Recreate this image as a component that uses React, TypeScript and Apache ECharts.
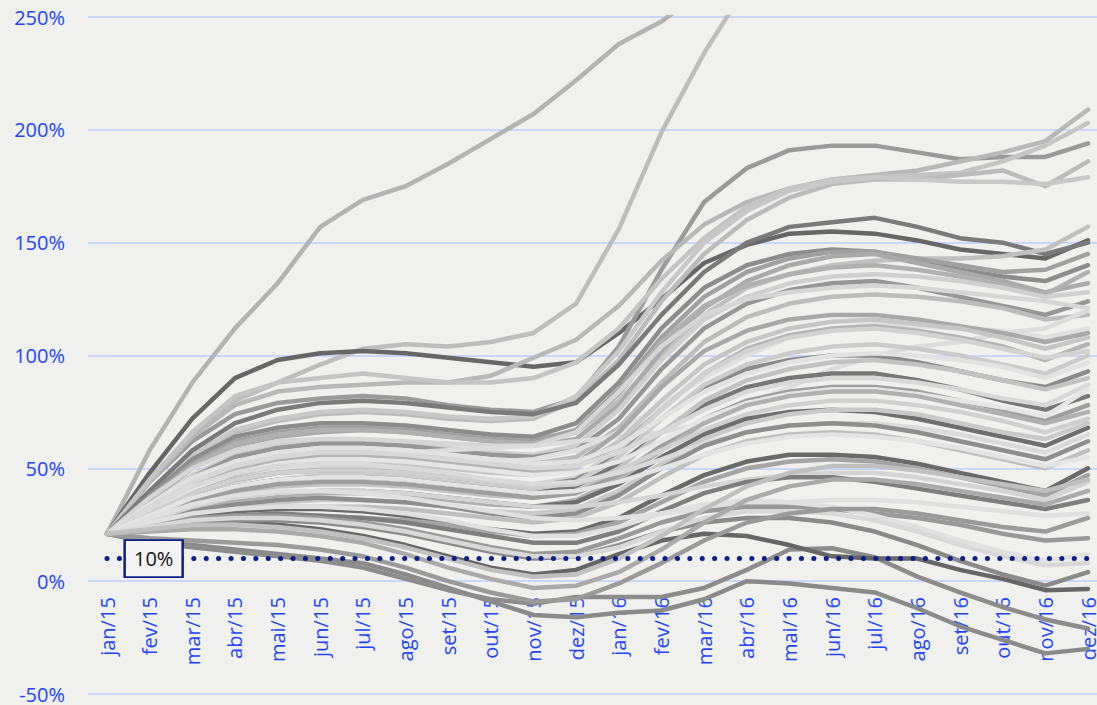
import React, { useEffect, useRef } from "react";
import * as echarts from "echarts";

// Monthly cumulative return (%) of each fund, jan/15 to dez/16
const months = [
  "jan/15", "fev/15", "mar/15", "abr/15", "mai/15", "jun/15", "jul/15", "ago/15", "set/15", "out/15", "nov/15", "dez/15",
  "jan/16", "fev/16", "mar/16", "abr/16", "mai/16", "jun/16", "jul/16", "ago/16", "set/16", "out/16", "nov/16", "dez/16",
];

const yMin = -50;
const yMax = 250;
const yStep = 50;
const targetLevel = 10;

// Funds ending in the upper part of the range
const upperFunds: (number | null)[][] = [
  [21, 58, 88, 112, 132, 157, 169, 175, 185, 196, 207, 222, 238, 248, 262, null, null, null, null, null, null, null, null, null],
  [21, 45, 65, 80, 88, 96, 103, 105, 104, 106, 110, 123, 156, 199, 234, 264, null, null, null, null, null, null, null, null],
  [21, 48, 72, 90, 98, 101, 102, 101, 99, 97, 95, 97, 110, 125, 141, 149, 154, 155, 154, 151, 147, 145, 143, 151],
  [21, 44, 62, 74, 79, 81, 82, 81, 78, 76, 75, 81, 104, 138, 168, 183, 191, 193, 193, 190, 187, 188, 188, 194],
  [21, 44, 64, 78, 84, 86, 87, 88, 88, 91, 99, 107, 122, 142, 158, 168, 174, 178, 180, 182, 186, 190, 195, 209],
  [21, 45, 66, 82, 88, 90, 92, 90, 88, 88, 90, 97, 112, 134, 152, 166, 174, 178, 179, 180, 181, 186, 193, 203],
  [21, 38, 55, 66, 71, 74, 75, 74, 72, 71, 72, 80, 98, 124, 145, 160, 170, 176, 178, 178, 180, 182, 175, 186],
  [21, 39, 56, 67, 72, 75, 76, 75, 73, 72, 73, 82, 102, 128, 150, 164, 173, 177, 179, 178, 177, 177, 176, 179],
  [21, 40, 58, 70, 76, 79, 80, 79, 77, 75, 74, 79, 96, 118, 137, 150, 157, 159, 161, 157, 152, 150, 145, 150],
  [21, 36, 50, 60, 65, 68, 69, 68, 66, 64, 63, 66, 80, 100, 118, 130, 136, 140, 142, 143, 143, 144, 147, 157],
];
const upperShades = ["#b3b3b3", "#bdbdbd", "#666666", "#9a9a9a", "#b8b8b8", "#c4c4c4", "#bbbbbb", "#c8c8c8", "#7a7a7a", "#c0c0c0"];

// Funds in the dense middle band
const middleFunds: number[][] = [
  [21, 38, 54, 64, 68, 70, 70, 69, 67, 65, 64, 70, 88, 112, 130, 140, 145, 147, 146, 142, 138, 135, 133, 140],
  [21, 37, 52, 62, 66, 68, 68, 67, 65, 63, 62, 67, 85, 108, 126, 137, 143, 146, 146, 143, 140, 137, 138, 145],
  [21, 35, 50, 60, 64, 66, 67, 66, 64, 62, 60, 63, 78, 102, 121, 133, 140, 144, 145, 141, 137, 133, 128, 132],
  [21, 36, 51, 61, 65, 67, 67, 66, 64, 62, 61, 66, 83, 106, 122, 131, 136, 139, 140, 138, 135, 131, 127, 137],
  [21, 34, 47, 56, 60, 62, 62, 61, 59, 57, 56, 60, 76, 98, 116, 126, 132, 135, 136, 135, 133, 130, 126, 128],
  [21, 33, 46, 55, 59, 61, 61, 60, 58, 56, 55, 58, 72, 94, 112, 123, 129, 132, 133, 130, 126, 122, 118, 124],
  [21, 37, 50, 58, 62, 63, 63, 62, 61, 60, 60, 66, 84, 104, 118, 125, 128, 130, 131, 130, 128, 126, 124, 121],
  [21, 32, 44, 52, 56, 58, 58, 57, 55, 53, 52, 55, 68, 88, 106, 117, 123, 126, 127, 126, 124, 121, 116, 118],
  [21, 33, 44, 50, 53, 55, 56, 57, 58, 59, 60, 62, 64, 66, 70, 78, 86, 94, 100, 104, 106, 110, 112, 120],
  [21, 30, 40, 46, 50, 52, 53, 53, 53, 53, 54, 58, 66, 78, 90, 100, 108, 112, 114, 113, 112, 111, 108, 112],
  [21, 31, 42, 49, 53, 55, 55, 54, 52, 50, 48, 52, 66, 86, 102, 111, 116, 118, 118, 116, 113, 110, 106, 110],
  [21, 30, 40, 47, 51, 53, 53, 52, 50, 48, 47, 50, 62, 80, 96, 106, 112, 115, 116, 114, 112, 108, 103, 108],
  [21, 32, 43, 50, 54, 56, 56, 55, 53, 51, 49, 51, 60, 76, 92, 103, 109, 112, 113, 111, 108, 104, 98, 105],
  [21, 29, 38, 44, 48, 50, 50, 49, 47, 45, 43, 46, 58, 76, 92, 102, 108, 111, 112, 110, 107, 103, 99, 102],
  [21, 30, 39, 45, 48, 49, 49, 48, 46, 44, 42, 45, 56, 72, 86, 94, 98, 100, 100, 97, 93, 89, 86, 93],
  [21, 28, 36, 42, 45, 47, 47, 46, 44, 42, 41, 44, 55, 72, 87, 96, 101, 104, 105, 103, 100, 96, 92, 100],
  [21, 34, 46, 53, 57, 59, 59, 58, 56, 54, 52, 53, 60, 72, 84, 92, 97, 100, 101, 100, 98, 95, 90, 97],
  [21, 29, 37, 42, 45, 46, 46, 45, 43, 41, 39, 42, 52, 66, 78, 86, 90, 92, 92, 89, 85, 80, 76, 82],
  [21, 27, 34, 39, 42, 43, 43, 42, 40, 38, 37, 40, 50, 66, 80, 89, 94, 97, 98, 96, 93, 89, 85, 90],
  [21, 33, 44, 51, 55, 57, 57, 56, 54, 52, 50, 51, 57, 66, 76, 84, 88, 90, 90, 88, 85, 81, 78, 87],
  [21, 28, 35, 40, 43, 44, 44, 43, 41, 39, 37, 39, 47, 60, 72, 80, 84, 86, 86, 84, 80, 76, 71, 78],
  [21, 31, 41, 48, 52, 54, 54, 53, 51, 49, 47, 48, 53, 62, 72, 79, 83, 85, 85, 83, 80, 77, 73, 85],
  [21, 26, 32, 36, 38, 39, 39, 38, 36, 34, 33, 36, 45, 58, 70, 78, 82, 84, 84, 82, 78, 74, 70, 75],
  [21, 30, 39, 45, 48, 49, 49, 48, 46, 44, 42, 43, 49, 58, 67, 74, 78, 80, 80, 78, 75, 71, 66, 72],
  [21, 27, 33, 37, 39, 40, 40, 39, 37, 35, 33, 35, 43, 55, 65, 72, 75, 76, 75, 72, 68, 64, 60, 68],
  [21, 25, 30, 33, 35, 36, 36, 35, 33, 31, 30, 32, 40, 52, 63, 70, 74, 76, 76, 74, 70, 66, 63, 70],
  [21, 32, 42, 48, 51, 52, 52, 50, 48, 45, 43, 44, 48, 54, 61, 66, 69, 70, 70, 68, 65, 61, 57, 65],
  [21, 26, 31, 34, 36, 37, 36, 35, 33, 30, 28, 30, 38, 50, 60, 66, 69, 70, 69, 66, 62, 58, 54, 62],
  [21, 24, 28, 31, 33, 33, 33, 32, 30, 28, 26, 28, 35, 46, 56, 62, 65, 66, 65, 62, 58, 54, 50, 58],
  [21, 29, 37, 42, 45, 46, 46, 45, 43, 41, 39, 40, 44, 50, 56, 61, 64, 65, 64, 62, 59, 55, 51, 55],
  [21, 25, 29, 31, 32, 32, 31, 29, 26, 23, 21, 22, 28, 38, 47, 53, 56, 56, 55, 52, 48, 44, 40, 50],
  [21, 23, 26, 28, 29, 29, 28, 27, 25, 22, 20, 21, 26, 35, 44, 50, 53, 54, 53, 50, 46, 42, 38, 47],
  [21, 27, 33, 37, 39, 40, 40, 39, 37, 35, 33, 33, 35, 38, 42, 45, 47, 48, 48, 46, 43, 40, 36, 44],
  [21, 24, 27, 29, 30, 29, 28, 26, 23, 20, 17, 17, 22, 31, 39, 44, 46, 46, 44, 41, 38, 35, 32, 36],
  [21, 28, 34, 38, 40, 40, 39, 37, 34, 31, 28, 27, 28, 30, 32, 34, 35, 36, 36, 35, 33, 31, 29, 30],
];
const middleShades = [
  "#8c8c8c", "#a0a0a0", "#aaaaaa", "#b0b0b0", "#cfcfcf", "#969696", "#d6d6d6", "#bcbcbc", "#dcdcdc", "#e0e0e0",
  "#a8a8a8", "#c6c6c6", "#b4b4b4", "#d2d2d2", "#8a8a8a", "#cbcbcb", "#e2e2e2", "#777777", "#c2c2c2", "#d8d8d8",
  "#9e9e9e", "#e6e6e6", "#b0b0b0", "#d0d0d0", "#6e6e6e", "#c9c9c9", "#dadada", "#8e8e8e", "#bfbfbf", "#e4e4e4",
  "#6a6a6a", "#a4a4a4", "#d4d4d4", "#7e7e7e", "#e0e0e0",
];

// Funds ending near or below the target
const lowerFunds: number[][] = [
  [21, 18, 16, 14, 12, 10, 8, 3, -3, -9, -15, -16, -14, -13, -8, 0, -1, -3, -5, -12, -20, -26, -32, -30],
  [21, 17, 15, 13, 11, 9, 6, 1, -4, -8, -10, -7, -7, -7, -3, 5, 14, 14.6, 10.6, 2, -5, -11.5, -17, -21],
  [21, 24, 27, 27, 25, 23, 20, 16, 11, 6, 3, 5, 12, 18, 21, 20, 16, 11, 10, 10, 5, 1, -4, -3.5],
  [21, 23, 26, 27, 27, 26, 24, 21, 17, 13, 10, 11, 16, 22, 26, 28, 28, 26, 22, 16, 9, 3, -2, 4],
  [21, 25, 28, 29, 29, 28, 26, 23, 19, 15, 12, 13, 19, 26, 31, 33, 33, 32, 30, 28, 25, 21, 18, 19],
  [21, 26, 30, 32, 33, 33, 32, 30, 27, 23, 20, 20, 24, 30, 34, 36, 35, 33, 29, 24, 18, 13, 9, 12],
  [21, 24, 27, 28, 28, 27, 25, 22, 18, 14, 11, 11, 15, 22, 28, 31, 31, 30, 27, 22, 16, 11, 7, 8],
  [21, 19, 18, 17, 16, 14, 11, 6, 0, -5, -9, -8, -1, 8, 18, 26, 30, 32, 32, 30, 27, 24, 22, 28],
  [21, 22, 23, 23, 22, 20, 17, 12, 6, 1, -3, -2, 4, 14, 26, 36, 42, 45, 45, 43, 40, 37, 34, 40],
  [21, 23, 25, 25, 24, 22, 19, 15, 10, 5, 2, 3, 10, 20, 32, 42, 48, 51, 51, 49, 46, 43, 40, 45],
];
const lowerShades = ["#8a8a8a", "#8c8c8c", "#666666", "#8a8a8a", "#999999", "#e0e0e0", "#d8d8d8", "#9a9a9a", "#aaaaaa", "#c0c0c0"];

const labelBlue = "#2244ff";
const gridBlue = "#cdd5fb";
const navy = "#0d1f87";
const font = "'Open Sans', 'Noto Sans', sans-serif";

// Plot geometry (px)
const plotTop = 17;
const plotBottom = 11;
const plotHeight = 705 - plotTop - plotBottom;
// distance from the bottom edge up to the 0% line, where month labels hang
const zeroLineBottom = plotBottom + (plotHeight * (0 - yMin)) / (yMax - yMin);

export default function App() {
  const ref = useRef<HTMLDivElement>(null);

  useEffect(() => {
    if (!ref.current) return;
    const chart = echarts.init(ref.current, undefined, { renderer: "svg" });

    const groups: [(number | null)[][], string[]][] = [
      [upperFunds, upperShades],
      [middleFunds, middleShades],
      [lowerFunds, lowerShades],
    ];
    const fundSeries: any[] = [];
    groups.forEach(([rows, shades]) => {
      rows.forEach((values, i) => {
        fundSeries.push({
          type: "line",
          xAxisIndex: 0,
          yAxisIndex: 0,
          data: values,
          symbol: "none",
          silent: true,
          z: 2,
          lineStyle: { color: shades[i % shades.length], width: 4.5, join: "round", cap: "round" },
        });
      });
    });

    const noBounds = { outerBoundsMode: "none", containLabel: false };

    chart.setOption({
      animation: false,
      backgroundColor: "#f0f0ef",
      grid: [
        // data area
        { left: 107, right: 9, top: plotTop, bottom: plotBottom, ...noBounds },
        // gridlines and percent labels, a little wider than the data
        { left: 88, right: 0, top: plotTop, bottom: plotBottom, ...noBounds },
        // month labels hanging under the 0% line
        { left: 107, right: 9, top: plotTop, bottom: zeroLineBottom, ...noBounds },
      ],
      xAxis: [
        { type: "category", gridIndex: 0, data: months, boundaryGap: false, show: false },
        { type: "value", gridIndex: 1, min: 0, max: 1, show: false },
        {
          type: "category",
          gridIndex: 2,
          data: months,
          boundaryGap: false,
          position: "bottom",
          axisLine: { show: false },
          axisTick: { show: false },
          splitLine: { show: false },
          axisLabel: {
            rotate: 90,
            margin: 16,
            color: labelBlue,
            fontSize: 20,
            fontFamily: font,
            interval: 0,
          },
        },
      ],
      yAxis: [
        { type: "value", gridIndex: 0, min: yMin, max: yMax, interval: yStep, show: false },
        {
          type: "value",
          gridIndex: 1,
          min: yMin,
          max: yMax,
          interval: yStep,
          axisLine: { show: false },
          axisTick: { show: false },
          axisLabel: {
            formatter: "{value}%",
            color: labelBlue,
            fontSize: 20,
            lineHeight: 18,
            fontFamily: font,
            margin: 23,
          },
          splitLine: { show: true, lineStyle: { color: gridBlue, width: 2 } },
        },
        { type: "value", gridIndex: 2, min: 0, max: yMax, show: false },
      ],
      series: [
        ...fundSeries,
        {
          type: "line",
          name: "meta",
          xAxisIndex: 0,
          yAxisIndex: 0,
          data: [],
          markLine: {
            silent: true,
            symbol: "none",
            z: 5,
            label: { show: false },
            lineStyle: { color: navy, width: 5, type: [0.1, 12.3], cap: "round" },
            data: [{ yAxis: targetLevel }],
          },
          markPoint: {
            silent: true,
            z: 6,
            symbol: "rect",
            symbolSize: [58, 37],
            symbolOffset: [4, 0],
            itemStyle: { color: "#f4f4f4", borderColor: navy, borderWidth: 2 },
            label: {
              show: true,
              position: "inside",
              formatter: `${targetLevel}%`,
              color: "#111111",
              fontSize: 20,
              fontFamily: font,
            },
            data: [{ coord: [months[1], targetLevel] }],
          },
        },
      ],
    });

    return () => chart.dispose();
  }, []);

  return (
    <div
      ref={ref}
      style={{ position: "fixed", left: 0, top: 0, width: 1097, height: 705 }}
    />
  );
}
